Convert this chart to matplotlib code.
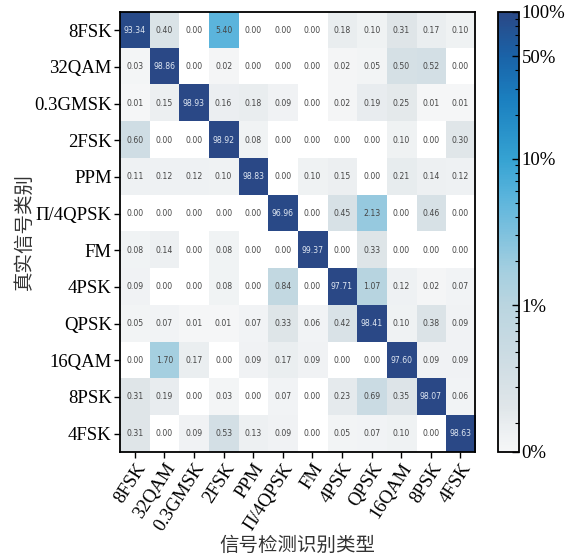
import numpy as np
import matplotlib
matplotlib.use('Agg')
import matplotlib.pyplot as plt
from matplotlib.colors import LinearSegmentedColormap, SymLogNorm

# 类别 (真实 / 预测 使用同一组)
classes = ['8FSK', '32QAM', '0.3GMSK', '2FSK', 'PPM', 'Π/4QPSK',
           'FM', '4PSK', 'QPSK', '16QAM', '8PSK', '4FSK']

# 混淆矩阵 (%)，行 = 真实类别，列 = 识别类别
row_8fsk   = [93.34, 0.40, 0.00, 5.40, 0.00, 0.00, 0.00, 0.18, 0.10, 0.31, 0.17, 0.10]
row_32qam  = [0.03, 98.86, 0.00, 0.02, 0.00, 0.00, 0.00, 0.02, 0.05, 0.50, 0.52, 0.00]
row_gmsk   = [0.01, 0.15, 98.93, 0.16, 0.18, 0.09, 0.00, 0.02, 0.19, 0.25, 0.01, 0.01]
row_2fsk   = [0.60, 0.00, 0.00, 98.92, 0.08, 0.00, 0.00, 0.00, 0.00, 0.10, 0.00, 0.30]
row_ppm    = [0.11, 0.12, 0.12, 0.10, 98.83, 0.00, 0.10, 0.15, 0.00, 0.21, 0.14, 0.12]
row_pi4    = [0.00, 0.00, 0.00, 0.00, 0.00, 96.96, 0.00, 0.45, 2.13, 0.00, 0.46, 0.00]
row_fm     = [0.08, 0.14, 0.00, 0.08, 0.00, 0.00, 99.37, 0.00, 0.33, 0.00, 0.00, 0.00]
row_4psk   = [0.09, 0.00, 0.00, 0.08, 0.00, 0.84, 0.00, 97.71, 1.07, 0.12, 0.02, 0.07]
row_qpsk   = [0.05, 0.07, 0.01, 0.01, 0.07, 0.33, 0.06, 0.42, 98.41, 0.10, 0.38, 0.09]
row_16qam  = [0.00, 1.70, 0.17, 0.00, 0.09, 0.17, 0.09, 0.00, 0.00, 97.60, 0.09, 0.09]
row_8psk   = [0.31, 0.19, 0.00, 0.03, 0.00, 0.07, 0.00, 0.23, 0.69, 0.35, 98.07, 0.06]
row_4fsk   = [0.31, 0.00, 0.09, 0.53, 0.13, 0.09, 0.00, 0.05, 0.07, 0.10, 0.00, 98.63]

cm = np.array([row_8fsk, row_32qam, row_gmsk, row_2fsk, row_ppm, row_pi4,
               row_fm, row_4psk, row_qpsk, row_16qam, row_8psk, row_4fsk])

cbar_ticks = [0, 1, 10, 50, 100]
cbar_labels = ['0%', '1%', '10%', '50%', '100%']

serif = ['Liberation Serif', 'DejaVu Serif']
cjk = ['Noto Sans CJK SC', 'DejaVu Sans']

# 灰白 -> 浅蓝 -> 深蓝
cmap = LinearSegmentedColormap.from_list('cm_blue', [
    (0.00, '#f5f6f7'),
    (0.04, '#eef1f3'),
    (0.10, '#e0e6e9'),
    (0.20, '#cfdde4'),
    (0.333, '#bad5e0'),
    (0.41, '#a5cfe0'),
    (0.58, '#5ab4dc'),
    (0.667, '#35a2d2'),
    (0.80, '#1b80c0'),
    (0.90, '#1a63a8'),
    (1.00, '#2a4886'),
])
cmap.set_bad('white')
# linscale 0.9 -> 线性段 (0~1%) 与每个十倍段等长
norm = SymLogNorm(linthresh=1, linscale=0.9, vmin=0, vmax=100, base=10)

fig = plt.figure(figsize=(5.74, 5.55), dpi=100)
ax = fig.add_axes([0.209, 0.1856, 0.619, 0.7928])
cax = fig.add_axes([0.868, 0.1856, 0.036, 0.7928])

data = np.ma.masked_where(cm == 0, cm)
im = ax.imshow(data, cmap=cmap, norm=norm, aspect='auto', interpolation='nearest')

for i in range(cm.shape[0]):
    for j in range(cm.shape[1]):
        v = cm[i, j]
        color = '#dfe7f2' if v > 50 else '#454545'
        ax.text(j, i, '%.2f' % v, ha='center', va='center', fontsize=5.6,
                color=color, family='DejaVu Sans')

ax.set_xticks(range(len(classes)))
ax.set_yticks(range(len(classes)))
ax.set_xticklabels(classes, rotation=57, ha='right', rotation_mode='anchor',
                   family=serif, fontsize=13.5)
ax.set_yticklabels(classes, family=serif, fontsize=13.5)
ax.tick_params(axis='both', length=4, width=1, color='black', pad=2)
for s in ax.spines.values():
    s.set_linewidth(1.3)

ax.set_xlabel('信号检测识别类型', family=cjk, fontsize=14, color='#333333')
ax.set_ylabel('真实信号类别', family=cjk, fontsize=14, color='#333333')
ax.xaxis.set_label_coords(0.5, -0.188)
ax.yaxis.set_label_coords(-0.24, 0.5)

cbar = fig.colorbar(im, cax=cax)
cbar.set_ticks(cbar_ticks)
cbar.set_ticklabels(cbar_labels)
# 次刻度: 0~1 段按压缩的对数位置, 1~100 段为常规对数位置
minor_low = [1 - 0.8 * np.log10(1 / v) for v in np.arange(0.1, 1.0, 0.1)]
minor_high = list(range(2, 10)) + [20, 30, 40, 60, 70, 80, 90]
cbar.ax.yaxis.set_minor_locator(matplotlib.ticker.FixedLocator(minor_low + minor_high))
cbar.ax.tick_params(which='major', direction='in', length=5, width=1,
                    labelsize=13.5, pad=2)
cbar.ax.tick_params(which='minor', direction='in', length=3, width=0.8)
for lbl in cbar.ax.get_yticklabels():
    lbl.set_family(serif)
cbar.outline.set_linewidth(1.3)

fig.savefig('out.png', dpi=100)
